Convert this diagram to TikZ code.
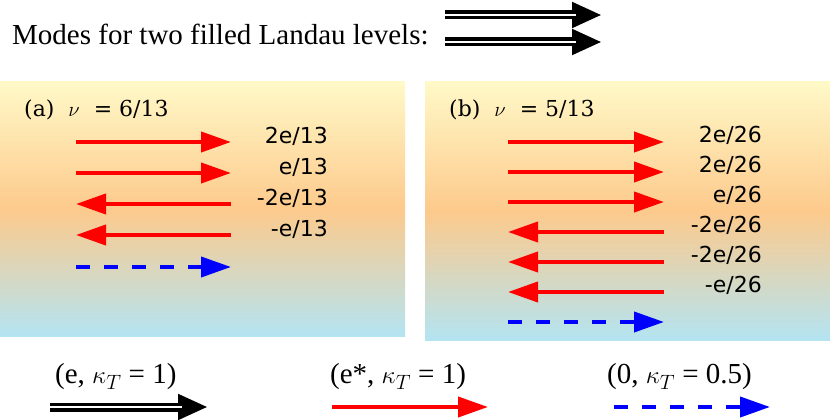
\documentclass[tikz,border=0pt]{standalone}
\usepackage{fontspec}
\setmainfont{Liberation Serif}
\newfontfamily\dvs{DejaVu Sans}
\newfontfamily\dvserif{DejaVu Serif}
\usetikzlibrary{arrows.meta}
\definecolor{ptop}{HTML}{FFF9C8}
\definecolor{pmid}{HTML}{FDCA8C}
\definecolor{pbot}{HTML}{B4E4F2}
\newcommand{\dblarrow}[2]{%
  \draw[black,line width=9pt,-{Triangle[length=30pt,width=24pt]}] (#1) -- (#2);
  \draw[white,line width=2pt,shorten >=26pt] (#1) -- (#2);}
\begin{document}
\begin{tikzpicture}[x=1pt,y=-1pt,
  panel/.style={draw=none,top color=ptop,bottom color=pbot,middle color=pmid},
  redarr/.style={draw=red,line width=4pt,-{Triangle[length=30pt,width=20pt]},red},
  bluearr/.style={draw=blue,line width=4pt,dash pattern=on 14pt off 14pt,-{Triangle[length=30pt,width=20pt]},blue},
  lab/.style={font=\dvs\fontsize{22}{25}\selectfont,anchor=east,inner sep=0pt},
  leg/.style={font=\fontsize{29}{32}\selectfont,inner sep=0pt}]
\useasboundingbox (0,0) rectangle (830,420);
\fill[white] (0,0) rectangle (830,420);
\node[font=\fontsize{29}{32}\selectfont,anchor=west,inner sep=0pt] (title) at (12,34) {Modes for two filled Landau levels:};
\coordinate (t1a) at (445,15); \coordinate (t1b) at (602,15);
\coordinate (t2a) at (445,42); \coordinate (t2b) at (602,42);
\dblarrow{t1a}{t1b}
\dblarrow{t2a}{t2b}
% panels
\shade[panel] (0,82) rectangle (405,336);
\shade[panel] (425,82) rectangle (830,340);
\node[font=\dvserif\fontsize{22}{25}\selectfont,anchor=west,inner sep=0pt] (pa) at (24,110) {(a)\ \ $\nu$\ \ = 6/13};
\node[font=\dvserif\fontsize{22}{25}\selectfont,anchor=west,inner sep=0pt] (pb) at (449,110) {(b)\ \ $\nu$\ \ = 5/13};
% panel a
\foreach \y/\d/\t [count=\i] in {142/r/{2e/13},173/r/{e/13},204/l/{-2e/13},235/l/{-e/13}}{
  \coordinate (al\i) at (76,\y); \coordinate (ar\i) at (231,\y);
  \if r\d \draw[redarr] (al\i) -- (ar\i); \else \draw[redarr] (ar\i) -- (al\i); \fi
  \node[lab] (la\i) at (328,\y-6) {\t};
}
\coordinate (al5) at (76,267); \coordinate (ar5) at (231,267);
\draw[bluearr] (al5) -- (ar5);
% panel b
\foreach \y/\d/\t [count=\i] in {142/r/{2e/26},172/r/{2e/26},202/r/{e/26},232/l/{-2e/26},262/l/{-2e/26},292/l/{-e/26}}{
  \coordinate (bl\i) at (508,\y); \coordinate (br\i) at (664,\y);
  \if r\d \draw[redarr] (bl\i) -- (br\i); \else \draw[redarr] (br\i) -- (bl\i); \fi
  \node[lab] (lb\i) at (762,\y-7) {\t};
}
\coordinate (bl7) at (508,322); \coordinate (br7) at (664,322);
\draw[bluearr] (bl7) -- (br7);
% legend
\node[leg,anchor=west] (l1) at (55,377) {(e, $\kappa_T$ = 1)};
\node[leg,anchor=west] (l2) at (330,377) {(e*, $\kappa_T$ = 1)};
\node[leg,anchor=west] (l3) at (607,377) {(0, $\kappa_T$ = 0.5)};
\coordinate (g1a) at (50,407); \coordinate (g1b) at (208,407);
\coordinate (g2a) at (332,407); \coordinate (g2b) at (488,407);
\coordinate (g3a) at (614,407); \coordinate (g3b) at (770,407);
\dblarrow{g1a}{g1b}
\draw[redarr] (g2a) -- (g2b);
\draw[bluearr] (g3a) -- (g3b);
\end{tikzpicture}
\end{document}
